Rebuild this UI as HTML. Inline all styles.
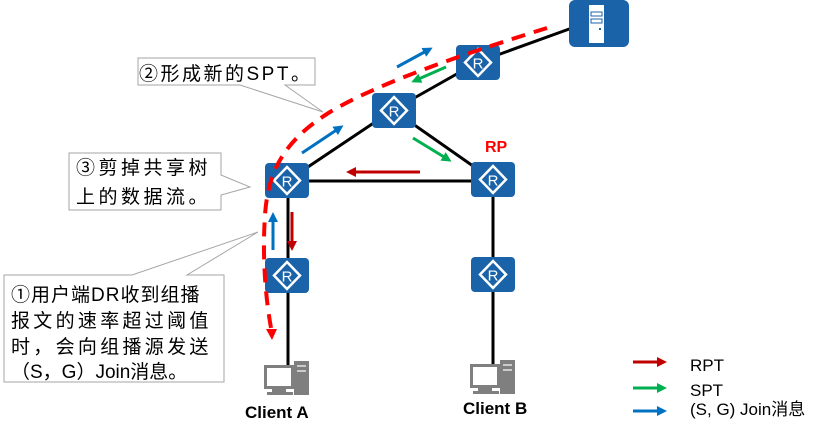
<!DOCTYPE html>
<html><head><meta charset="utf-8"><style>
html,body{margin:0;padding:0;background:#fff;}
svg{display:block;}
text{font-family:"Liberation Sans","Noto Sans CJK SC",sans-serif;}
</style></head><body>
<svg width="830" height="435" viewBox="0 0 830 435" xmlns="http://www.w3.org/2000/svg">
<defs>
<marker id="ar" markerWidth="10" markerHeight="10" refX="7" refY="5" orient="auto" markerUnits="userSpaceOnUse"><path d="M0,0 L10,5 L0,10z" fill="#c00000"/></marker>
<marker id="ag" markerWidth="10" markerHeight="10" refX="7" refY="5" orient="auto" markerUnits="userSpaceOnUse"><path d="M0,0 L10,5 L0,10z" fill="#00b050"/></marker>
<marker id="ab" markerWidth="10" markerHeight="10" refX="7" refY="5" orient="auto" markerUnits="userSpaceOnUse"><path d="M0,0 L10,5 L0,10z" fill="#0070c0"/></marker>
<g id="rt"><rect x="0" y="0" width="44" height="35" rx="4" fill="#1a63a8"/><path d="M22,4 L35,17.5 L22,31 L9,17.5z" fill="none" stroke="#fff" stroke-width="2.5"/><text x="22" y="23.5" font-size="15" fill="#fff" text-anchor="middle">R</text></g>
<g id="pc"><rect x="0" y="4" width="30" height="24" fill="#7f7f7f"/><rect x="3" y="7" width="24" height="18" fill="#fff"/><rect x="30" y="0" width="15" height="34" fill="#7f7f7f"/><rect x="8" y="28" width="14" height="3" fill="#7f7f7f"/><rect x="3" y="31" width="26" height="3" fill="#7f7f7f"/><rect x="33" y="4" width="9" height="2" fill="#ccc"/><rect x="33" y="9" width="9" height="2" fill="#ccc"/></g>
</defs>
<g stroke="#000" stroke-width="3">
<line x1="572" y1="28" x2="478" y2="62"/>
<line x1="478" y1="62" x2="393" y2="110"/>
<line x1="393" y1="110" x2="493" y2="180"/>
<line x1="393" y1="110" x2="287" y2="181"/>
<line x1="287" y1="181" x2="493" y2="181"/>
<line x1="288" y1="181" x2="288" y2="365"/>
<line x1="493" y1="181" x2="493" y2="365"/>
</g>
<rect x="569" y="0" width="60" height="47" rx="6" fill="#1a63a8"/>
<rect x="589" y="5" width="15" height="38" fill="#fff"/>
<rect x="591" y="12" width="11" height="4" fill="none" stroke="#1a63a8" stroke-width="1"/>
<rect x="591" y="19" width="11" height="4" fill="none" stroke="#1a63a8" stroke-width="1"/>
<rect x="599" y="28" width="2" height="2" fill="#1a63a8"/>
<use href="#rt" x="456" y="45"/>
<use href="#rt" x="372" y="93"/>
<use href="#rt" x="265" y="163"/>
<use href="#rt" x="471" y="162"/>
<use href="#rt" x="265" y="258"/>
<use href="#rt" x="471" y="257"/>
<use href="#pc" x="264" y="361"/>
<use href="#pc" x="470" y="360"/>
<text x="485" y="152" font-size="16" font-weight="bold" fill="#ff0000">RP</text>
<g stroke-width="3" fill="none">
<line x1="397" y1="67" x2="430" y2="49" stroke="#0070c0" marker-end="url(#ab)"/>
<line x1="446" y1="67" x2="414" y2="81" stroke="#00b050" marker-end="url(#ag)"/>
<line x1="302" y1="153" x2="341" y2="127" stroke="#0070c0" marker-end="url(#ab)"/>
<line x1="413" y1="138" x2="449" y2="160" stroke="#00b050" marker-end="url(#ag)"/>
<line x1="420" y1="172" x2="349" y2="172" stroke="#c00000" marker-end="url(#ar)"/>
<line x1="273" y1="250" x2="273" y2="215" stroke="#0070c0" marker-end="url(#ab)"/>
<line x1="292" y1="212" x2="292" y2="248" stroke="#c00000" marker-end="url(#ar)"/>
</g>
<path d="M547,28 C470,52 380,82 330,112 C285,140 268,170 265,215 C262,260 266,300 271,328" fill="none" stroke="#ff0000" stroke-width="4" stroke-dasharray="14,9"/>
<path d="M266,329 L277,329 L272,340z" fill="#ff0000"/>
<g fill="#fff" stroke="#a6a6a6" stroke-width="1">
<path d="M138,58 H315 V85 H285 L323,112 L240,85 H138z"/>
<path d="M69,153 H221 V175 L250,187 L221,195 V210 H69z"/>
<path d="M4,275 H132 L258,232 L187,275 H224 V382 H4z"/>
</g>
<g font-size="19" fill="#000">
<text x="139" y="80" letter-spacing="2.5">②形成新的SPT。</text>
<text x="76" y="174" letter-spacing="3.5">③剪掉共享树</text>
<text x="76" y="203" letter-spacing="3.5">上的数据流。</text>
<text x="11" y="301" letter-spacing="1">①用户端DR收到组播</text>
<text x="11" y="327" letter-spacing="3.3">报文的速率超过阈值</text>
<text x="11" y="353" letter-spacing="3.3">时，会向组播源发送</text>
<text x="11" y="378">（S，G）Join消息。</text>
</g>
<text x="245" y="418" font-size="17" font-weight="bold">Client A</text>
<text x="463" y="414" font-size="17" font-weight="bold">Client B</text>
<g stroke-width="3">
<line x1="633" y1="362" x2="664" y2="362" stroke="#c00000" marker-end="url(#ar)"/>
<line x1="633" y1="388" x2="664" y2="388" stroke="#00b050" marker-end="url(#ag)"/>
<line x1="633" y1="411" x2="664" y2="411" stroke="#0070c0" marker-end="url(#ab)"/>
</g>
<g font-size="17" fill="#000">
<text x="690" y="371">RPT</text>
<text x="690" y="396">SPT</text>
<text x="690" y="415">(S, G) Join消息</text>
</g>
</svg>
</body></html>
